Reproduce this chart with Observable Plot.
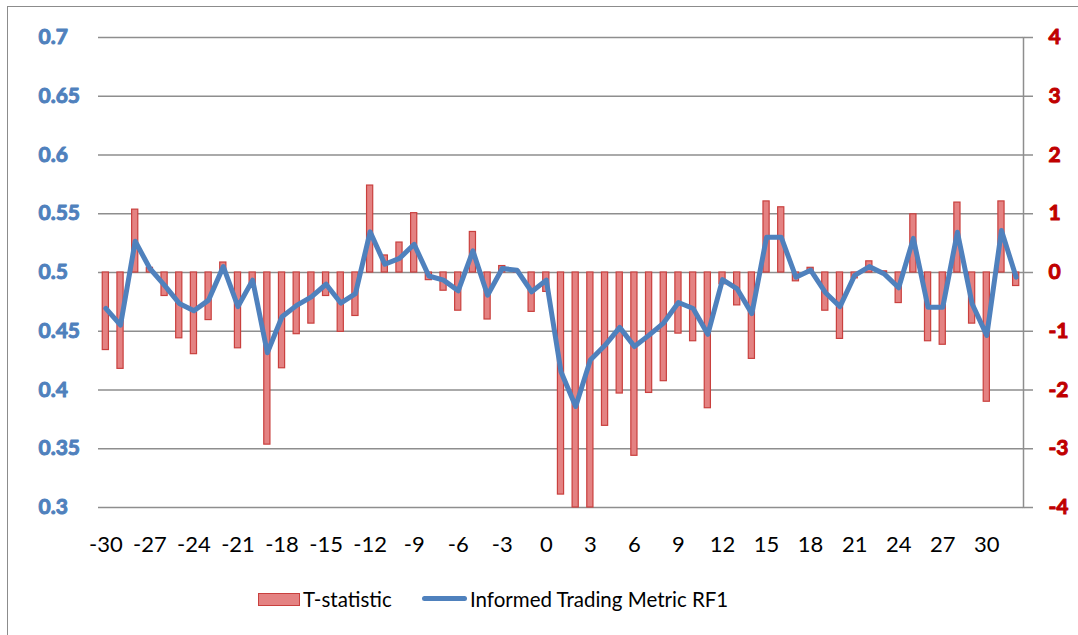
<!DOCTYPE html>
<html><head><meta charset="utf-8">
<script src="https://cdn.jsdelivr.net/npm/d3@7"></script>
<script src="https://cdn.jsdelivr.net/npm/@observablehq/plot@0.6"></script>
<style>
body{margin:0;background:#fff;font-family:Lato,sans-serif;width:1078px;height:635px;overflow:hidden;position:relative}
#frame{position:absolute;left:7px;top:6px;width:1200px;height:700px;border-left:1.5px solid #8c8c8c;border-top:1.5px solid #8c8c8c}
#chart{position:absolute;left:0;top:0}
.lg{position:absolute;font-size:20.5px;color:#000;line-height:22px;white-space:nowrap}
</style></head>
<body>
<div id="frame"></div>
<div id="chart"></div>
<div class="lg" style="left:258px;top:593px;width:40px;height:11px;background:#e48282;border:1.5px solid #c9403e"></div>
<div class="lg" style="left:303px;top:588px">T-statistic</div>
<div class="lg" style="left:422px;top:596px;width:45px;height:5px;background:#4f81bd;border-radius:3px"></div>
<div class="lg" style="left:470px;top:588px">Informed Trading Metric RF1</div>
<script>
const categories = [-30,-29,-28,-27,-26,-25,-24,-23,-22,-21,-20,-19,-18,-17,-16,-15,-14,-13,-12,-11,-10,-9,-8,-7,-6,-5,-4,-3,-2,-1,0,1,2,3,4,5,6,7,8,9,10,11,12,13,14,15,16,17,18,19,20,21,22,23,24,25,26,27,28,29,30,31,32];
const tStatistic = [-1.32,-1.64,1.07,0.08,-0.40,-1.12,-1.39,-0.81,0.17,-1.29,
  -0.25,-2.93,-1.63,-1.05,-0.87,-0.40,-1.01,-0.74,1.48,0.29,
  0.51,1.01,-0.13,-0.31,-0.65,0.69,-0.80,0.11,0.03,-0.67,
  -0.33,-3.78,-4.0,-4.0,-2.61,-2.06,-3.12,-2.05,-1.85,-1.04,
  -1.17,-2.31,-0.20,-0.56,-1.47,1.21,1.11,-0.15,0.08,-0.65,
  -1.13,-0.10,0.19,0.02,-0.52,0.99,-1.17,-1.23,1.19,-0.87,
  -2.20,1.21,-0.23];
const metricRF1 = [0.4694,0.4552,0.5266,0.5034,0.489,0.4737,0.4674,0.4765,0.505,0.471,
  0.4935,0.4317,0.4623,0.472,0.4793,0.49,0.474,0.482,0.5346,0.507,
  0.512,0.524,0.497,0.4935,0.4844,0.5184,0.4807,0.5034,0.502,0.4836,
  0.4935,0.4156,0.386,0.4255,0.438,0.4533,0.437,0.4467,0.4572,0.4745,
  0.4694,0.4474,0.494,0.486,0.465,0.53,0.53,0.496,0.502,0.483,
  0.471,0.4975,0.505,0.499,0.487,0.529,0.4705,0.4705,0.5343,0.4734,
  0.4465,0.5357,0.496];
const leftTicks = [0.3,0.35,0.4,0.45,0.5,0.55,0.6,0.65,0.7];
const rightTicks = [-4,-3,-2,-1,0,1,2,3,4];
const xTickLabels = [-30,-27,-24,-21,-18,-15,-12,-9,-6,-3,0,3,6,9,12,15,18,21,24,27,30];

// right axis (T-statistic) shares the pixel range: -4..4 <-> 0.3..0.7
const toLeft = t => 0.5 + t * 0.05;
const data = categories.map((c, i) => ({c, t: tStatistic[i], m: metricRF1[i]}));

const chart = Plot.plot({
  width: 1078, height: 560,
  marginLeft: 98, marginRight: 55, marginTop: 37, marginBottom: 53,
  style: {fontFamily: "Lato, sans-serif", background: "transparent"},
  x: {type: "band", domain: categories, paddingInner: 0.58, paddingOuter: 0.29},
  y: {domain: [0.3, 0.7]},
  marks: [
    Plot.ruleY(leftTicks, {stroke: "#8e8e8e", strokeWidth: 1.5}),
    Plot.text(leftTicks, {y: d => d, text: d => String(+d.toFixed(2)), frameAnchor: "left", dx: -60,
      textAnchor: "start", fill: "#4f81bd", stroke: "#4f81bd", strokeWidth: 1, fontSize: 21, fontWeight: "bold"}),
    Plot.axisY({anchor: "right", ticks: rightTicks.map(toLeft), tickSize: 9, tickFormat: () => "",
      stroke: "#8e8e8e", strokeWidth: 1.5, label: null}),
    Plot.text(rightTicks, {y: d => toLeft(d), text: d => String(d), frameAnchor: "right", dx: 25,
      textAnchor: "start", fill: "#c00000", stroke: "#c00000", strokeWidth: 1, fontSize: 21, fontWeight: "bold"}),
    Plot.frame({anchor: "right", stroke: "#8e8e8e", strokeWidth: 1.5}),
    Plot.barY(data, {x: "c", y1: 0.5, y2: d => toLeft(d.t), fill: "#e48282", stroke: "#c9403e", strokeWidth: 1.2}),
    Plot.line(data, {x: "c", y: "m", stroke: "#4f81bd", strokeWidth: 5, strokeLinejoin: "round", strokeLinecap: "round"}),
    Plot.axisX({ticks: xTickLabels, tickSize: 0, tickPadding: 29, fontSize: 22, fill: "#000", label: null})
  ]
});
document.getElementById("chart").appendChild(chart);
</script>
</body></html>
